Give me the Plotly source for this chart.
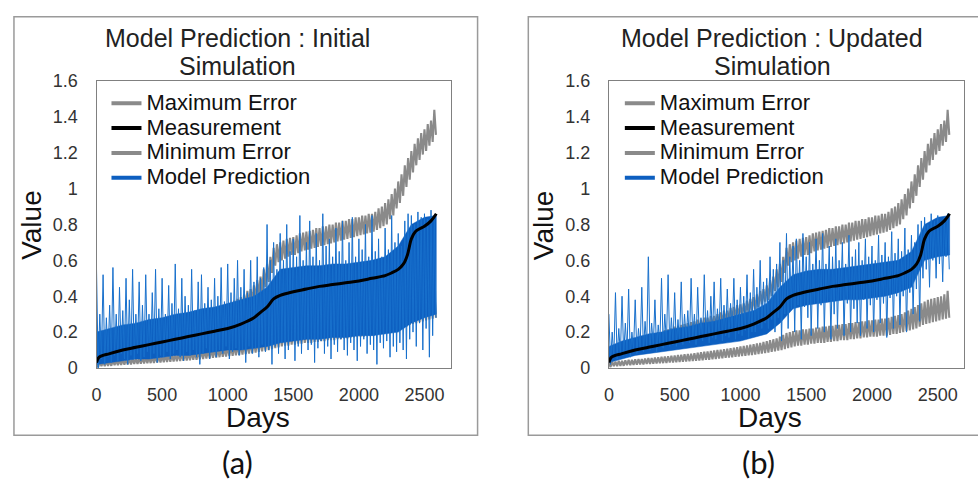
import plotly.graph_objects as go

# ---------------- data ----------------
# sampling grid of the noisy series (every 25 days); each reading gives a high and a low value
days = list(range(0, 2600, 25))

# measurement (smooth black line), same in both panels
meas_days = [0, 20, 100, 200, 300, 400, 500, 600, 700, 800, 900, 1000, 1100, 1200, 1250,
             1300, 1350, 1400, 1500, 1600, 1700, 1800, 1900, 2000, 2100, 2200, 2250, 2300,
             2340, 2370, 2400, 2430, 2460, 2500, 2550, 2590]
meas_vals = [0.03, 0.06, 0.08, 0.10, 0.115, 0.13, 0.145, 0.16, 0.175, 0.19, 0.205, 0.22, 0.245,
             0.28, 0.31, 0.34, 0.385, 0.405, 0.425, 0.44, 0.455, 0.465, 0.475, 0.485, 0.50,
             0.515, 0.53, 0.55, 0.58, 0.63, 0.72, 0.76, 0.775, 0.79, 0.82, 0.86]

# maximum error band (gray, upper)
max_err_hi = [0.08, 0.10, 0.11, 0.12, 0.13, 0.145, 0.15, 0.16, 0.165, 0.16, 0.175, 0.175,
              0.18, 0.19, 0.19, 0.20, 0.20, 0.21, 0.215, 0.22, 0.23, 0.23, 0.24, 0.245,
              0.25, 0.255, 0.26, 0.27, 0.27, 0.28, 0.28, 0.29, 0.29, 0.30, 0.31, 0.32,
              0.32, 0.335, 0.34, 0.35, 0.355, 0.36, 0.375, 0.385, 0.395, 0.41, 0.43, 0.44,
              0.46, 0.49, 0.51, 0.55, 0.58, 0.62, 0.67, 0.69, 0.70, 0.71, 0.72, 0.725,
              0.73, 0.74, 0.75, 0.755, 0.76, 0.765, 0.77, 0.78, 0.78, 0.79, 0.79, 0.80,
              0.80, 0.81, 0.81, 0.82, 0.82, 0.83, 0.83, 0.84, 0.84, 0.85, 0.85, 0.86,
              0.86, 0.87, 0.89, 0.90, 0.92, 0.94, 0.97, 1.00, 1.04, 1.08, 1.13, 1.17,
              1.21, 1.25, 1.28, 1.31, 1.33, 1.36, 1.38, 1.44]
max_err_lo = [0.04, 0.06, 0.07, 0.08, 0.09, 0.10, 0.11, 0.115, 0.12, 0.125, 0.13, 0.135,
              0.14, 0.145, 0.15, 0.155, 0.16, 0.16, 0.17, 0.17, 0.17, 0.18, 0.18, 0.19,
              0.19, 0.195, 0.20, 0.205, 0.21, 0.215, 0.22, 0.225, 0.23, 0.24, 0.25, 0.255,
              0.26, 0.27, 0.28, 0.285, 0.29, 0.30, 0.305, 0.32, 0.33, 0.34, 0.355, 0.37,
              0.38, 0.40, 0.43, 0.45, 0.48, 0.53, 0.57, 0.59, 0.60, 0.61, 0.62, 0.63,
              0.63, 0.64, 0.65, 0.655, 0.66, 0.665, 0.67, 0.675, 0.68, 0.685, 0.69, 0.695,
              0.70, 0.705, 0.71, 0.715, 0.72, 0.725, 0.73, 0.735, 0.74, 0.745, 0.75, 0.755,
              0.76, 0.77, 0.78, 0.79, 0.80, 0.83, 0.85, 0.89, 0.92, 0.96, 1.01, 1.05,
              1.09, 1.13, 1.16, 1.19, 1.21, 1.24, 1.26, 1.30]

# minimum error band (gray, lower)
min_err_hi = [0.03, 0.035, 0.035, 0.04, 0.04, 0.042, 0.045, 0.045, 0.048, 0.05, 0.05, 0.052,
              0.055, 0.056, 0.058, 0.06, 0.062, 0.064, 0.065, 0.068, 0.07, 0.072, 0.074, 0.076,
              0.078, 0.08, 0.082, 0.085, 0.088, 0.09, 0.092, 0.095, 0.098, 0.10, 0.102, 0.105,
              0.108, 0.11, 0.113, 0.116, 0.12, 0.123, 0.126, 0.13, 0.133, 0.137, 0.14, 0.145,
              0.15, 0.155, 0.16, 0.165, 0.175, 0.185, 0.195, 0.20, 0.205, 0.21, 0.21, 0.215,
              0.215, 0.22, 0.22, 0.225, 0.225, 0.23, 0.23, 0.235, 0.235, 0.24, 0.24, 0.245,
              0.245, 0.25, 0.25, 0.255, 0.255, 0.26, 0.26, 0.265, 0.265, 0.27, 0.27, 0.275,
              0.275, 0.28, 0.285, 0.29, 0.295, 0.30, 0.31, 0.32, 0.33, 0.34, 0.35, 0.36,
              0.37, 0.38, 0.385, 0.39, 0.395, 0.40, 0.41, 0.43]
min_err_lo = [0.005, 0.01, 0.01, 0.012, 0.012, 0.015, 0.015, 0.017, 0.018, 0.02, 0.02, 0.022,
              0.022, 0.024, 0.025, 0.026, 0.027, 0.028, 0.03, 0.03, 0.032, 0.033, 0.035, 0.036,
              0.037, 0.038, 0.04, 0.042, 0.043, 0.045, 0.046, 0.048, 0.05, 0.052, 0.054, 0.056,
              0.058, 0.06, 0.062, 0.064, 0.066, 0.068, 0.07, 0.072, 0.075, 0.077, 0.08, 0.083,
              0.086, 0.09, 0.093, 0.097, 0.10, 0.105, 0.11, 0.115, 0.12, 0.125, 0.125, 0.13,
              0.13, 0.135, 0.135, 0.14, 0.14, 0.14, 0.145, 0.145, 0.15, 0.15, 0.155, 0.155,
              0.155, 0.16, 0.16, 0.165, 0.165, 0.17, 0.17, 0.175, 0.175, 0.175, 0.18, 0.18,
              0.18, 0.185, 0.19, 0.19, 0.195, 0.20, 0.205, 0.21, 0.215, 0.22, 0.23, 0.24,
              0.245, 0.25, 0.255, 0.26, 0.265, 0.27, 0.275, 0.28]

# model prediction: dense body of the blue series (every 100 days, last reading at 2590)
body_days = [0, 100, 200, 300, 400, 500, 600, 700, 800, 900, 1000, 1100, 1200, 1300,
             1400, 1500, 1600, 1700, 1800, 1900, 2000, 2100, 2200, 2300, 2400, 2500, 2590]
body_a_hi = [0.20, 0.22, 0.24, 0.25, 0.27, 0.28, 0.30, 0.31, 0.33, 0.34, 0.36, 0.38, 0.40,
             0.45, 0.55, 0.56, 0.57, 0.57, 0.58, 0.58, 0.59, 0.60, 0.62, 0.68, 0.80, 0.84, 0.85]
body_a_lo = [0.02, 0.03, 0.04, 0.05, 0.05, 0.06, 0.07, 0.07, 0.08, 0.09, 0.10, 0.10, 0.11,
             0.12, 0.14, 0.15, 0.16, 0.16, 0.17, 0.17, 0.18, 0.18, 0.19, 0.20, 0.25, 0.28, 0.30]
body_b_hi = [0.12, 0.15, 0.17, 0.19, 0.20, 0.22, 0.23, 0.25, 0.26, 0.28, 0.30, 0.32, 0.36,
             0.45, 0.52, 0.54, 0.55, 0.55, 0.56, 0.57, 0.58, 0.59, 0.60, 0.65, 0.80, 0.84, 0.85]
body_b_lo = [0.03, 0.05, 0.07, 0.08, 0.09, 0.10, 0.11, 0.12, 0.13, 0.14, 0.15, 0.17, 0.19,
             0.25, 0.33, 0.35, 0.36, 0.37, 0.38, 0.38, 0.39, 0.40, 0.42, 0.45, 0.60, 0.62, 0.63]

# model prediction spikes, panel (a) initial simulation
pred_a_hi = [0.55, 0.30, 0.52, 0.28, 0.35, 0.56, 0.30, 0.45, 0.32, 0.50, 0.38, 0.55,
             0.30, 0.48, 0.35, 0.52, 0.30, 0.42, 0.55, 0.33, 0.50, 0.30, 0.46, 0.36,
             0.58, 0.33, 0.50, 0.40, 0.35, 0.55, 0.32, 0.48, 0.52, 0.36, 0.45, 0.38,
             0.50, 0.40, 0.56, 0.37, 0.58, 0.42, 0.50, 0.60, 0.45, 0.55, 0.42, 0.60,
             0.48, 0.62, 0.50, 0.56, 0.80, 0.60, 0.70, 0.55, 0.75, 0.60, 0.80, 0.65,
             0.72, 0.62, 0.85, 0.60, 0.70, 0.82, 0.62, 0.75, 0.60, 0.86, 0.68, 0.72,
             0.62, 0.78, 0.65, 0.82, 0.60, 0.70, 0.84, 0.62, 0.72, 0.66, 0.80, 0.62,
             0.85, 0.65, 0.72, 0.62, 0.78, 0.66, 0.85, 0.70, 0.75, 0.68, 0.82, 0.86,
             0.85, 0.80, 0.87, 0.84, 0.86, 0.83, 0.88, 0.85]
pred_a_lo = [0.00, 0.05, 0.02, 0.06, 0.03, 0.07, 0.04, 0.08, 0.05, 0.02, 0.07, 0.05,
             0.08, 0.04, 0.06, 0.09, 0.05, 0.08, 0.03, 0.07, 0.06, 0.09, 0.05, 0.08,
             0.10, 0.06, 0.04, 0.09, 0.07, 0.10, 0.06, 0.02, 0.08, 0.11, 0.05, 0.09,
             0.06, 0.10, 0.08, 0.12, 0.05, 0.09, 0.11, 0.07, 0.10, 0.03, 0.12, 0.08,
             0.11, 0.06, 0.13, 0.09, 0.10, 0.02, 0.12, 0.08, 0.14, 0.05, 0.10, 0.15,
             0.04, 0.12, 0.08, 0.16, 0.10, 0.13, 0.03, 0.11, 0.15, 0.08, 0.12, 0.05,
             0.13, 0.09, 0.16, 0.10, 0.07, 0.14, 0.10, 0.04, 0.12, 0.16, 0.08, 0.13,
             0.10, 0.02, 0.14, 0.11, 0.15, 0.06, 0.12, 0.09, 0.14, 0.10, 0.05, 0.16,
             0.20, 0.12, 0.25, 0.10, 0.22, 0.06, 0.18, 0.28]

# model prediction spikes, panel (b) updated simulation
pred_b_hi = [0.30, 0.20, 0.42, 0.22, 0.40, 0.25, 0.44, 0.20, 0.38, 0.22, 0.45, 0.26,
             0.62, 0.25, 0.38, 0.24, 0.50, 0.30, 0.52, 0.28, 0.42, 0.27, 0.48, 0.30,
             0.32, 0.50, 0.30, 0.45, 0.28, 0.52, 0.32, 0.40, 0.48, 0.33, 0.50, 0.35,
             0.44, 0.36, 0.50, 0.38, 0.45, 0.40, 0.52, 0.42, 0.55, 0.45, 0.60, 0.48,
             0.50, 0.62, 0.55, 0.58, 0.70, 0.60, 0.75, 0.62, 0.68, 0.72, 0.60, 0.75,
             0.62, 0.70, 0.58, 0.72, 0.60, 0.75, 0.58, 0.68, 0.62, 0.72, 0.60, 0.70,
             0.58, 0.74, 0.62, 0.66, 0.70, 0.60, 0.72, 0.62, 0.68, 0.60, 0.74, 0.63,
             0.70, 0.62, 0.76, 0.64, 0.72, 0.65, 0.78, 0.66, 0.74, 0.70, 0.80, 0.82,
             0.84, 0.80, 0.86, 0.82, 0.85, 0.80, 0.84, 0.86]
pred_b_lo = [0.02, 0.06, 0.05, 0.08, 0.07, 0.09, 0.06, 0.10, 0.08, 0.11, 0.09, 0.12,
             0.10, 0.12, 0.09, 0.13, 0.11, 0.14, 0.12, 0.13, 0.12, 0.15, 0.13, 0.16,
             0.14, 0.16, 0.13, 0.17, 0.15, 0.18, 0.14, 0.17, 0.16, 0.19, 0.15, 0.18,
             0.17, 0.20, 0.16, 0.19, 0.18, 0.21, 0.17, 0.20, 0.20, 0.24, 0.22, 0.25,
             0.22, 0.27, 0.20, 0.28, 0.15, 0.30, 0.22, 0.33, 0.20, 0.35, 0.16, 0.34,
             0.28, 0.18, 0.36, 0.22, 0.35, 0.20, 0.37, 0.16, 0.30, 0.22, 0.38, 0.18,
             0.36, 0.20, 0.33, 0.25, 0.18, 0.38, 0.22, 0.35, 0.20, 0.38, 0.25, 0.36,
             0.17, 0.39, 0.22, 0.40, 0.24, 0.40, 0.20, 0.42, 0.30, 0.44, 0.26, 0.50,
             0.55, 0.45, 0.60, 0.50, 0.58, 0.48, 0.62, 0.55]

x_ticks = [0, 500, 1000, 1500, 2000, 2500]
panel_titles = [("Model Prediction : Initial", "Simulation"),
                ("Model Prediction : Updated", "Simulation")]
panel_labels = ["(a)", "(b)"]
legend_names = ["Maximum Error", "Measurement", "Minimum Error", "Model Prediction"]

# ---------------- styling ----------------
W, H = 978, 496
GRAY = "#8a8a8a"
BLUE = "#1870cc"
BLUE_DARK = "#0d5fc0"
BLACK = "#000000"
FONT = "Liberation Sans, Arial, sans-serif"


def zig(xs, hi, lo, half_step=12.5):
    """Interleave the high/low readings so the noisy series is drawn as one line."""
    zx, zy = [], []
    for d, h, l in zip(xs, hi, lo):
        zx += [d, d + half_step]
        zy += [h, l]
    return zx, zy


def px_x(p):
    return p / W


def px_y(p):
    return 1 - p / H


fig = go.Figure()

panels = [
    dict(xa="x", ya="y", leg="legend", pred_hi=pred_a_hi, pred_lo=pred_a_lo,
         body_hi=body_a_hi, body_lo=body_a_lo),
    dict(xa="x2", ya="y2", leg="legend2", pred_hi=pred_b_hi, pred_lo=pred_b_lo,
         body_hi=body_b_hi, body_lo=body_b_lo),
]

for p in panels:
    mx, my = zig(days, max_err_hi, max_err_lo)
    nx, ny = zig(days, min_err_hi, min_err_lo)
    bx, by = zig(days, p["pred_hi"], p["pred_lo"])
    common = dict(xaxis=p["xa"], yaxis=p["ya"], showlegend=False, hoverinfo="skip")
    fig.add_trace(go.Scatter(x=mx, y=my, mode="lines",
                             line=dict(color=GRAY, width=2.1, simplify=False), **common))
    fig.add_trace(go.Scatter(x=nx, y=ny, mode="lines",
                             line=dict(color=GRAY, width=2.1, simplify=False), **common))
    # dense body of the prediction
    fig.add_trace(go.Scatter(x=body_days + body_days[::-1],
                             y=p["body_hi"] + p["body_lo"][::-1],
                             mode="lines", fill="toself", fillcolor=BLUE_DARK,
                             line=dict(color=BLUE_DARK, width=0.5), **common))
    # spikes of the prediction
    fig.add_trace(go.Scatter(x=bx, y=by, mode="lines",
                             line=dict(color=BLUE, width=1, simplify=False), **common))
    fig.add_trace(go.Scatter(x=meas_days, y=meas_vals, mode="lines",
                             line=dict(color=BLACK, width=3, shape="spline"), **common))
    # legend entries (thick line samples as in the reference)
    for name, col in zip(legend_names, [GRAY, BLACK, GRAY, BLUE_DARK]):
        fig.add_trace(go.Scatter(x=[None], y=[None], mode="lines",
                                 line=dict(color=col, width=4),
                                 name='<span style="font-size:22px">' + name + "</span>",
                                 xaxis=p["xa"], yaxis=p["ya"], legend=p["leg"]))

axis_common = dict(showline=True, mirror=True, linecolor="#808080", linewidth=1.2,
                   showgrid=False, zeroline=False, ticks="",
                   tickfont=dict(family=FONT, size=18, color="#333333"))

ydom = [px_y(373), px_y(74)]
fig.update_layout(
    width=W, height=H, autosize=False,
    margin=dict(l=0, r=0, t=0, b=0),
    paper_bgcolor="white", plot_bgcolor="white",
    xaxis=dict(domain=[px_x(92), px_x(448)], range=[0, 2700], tickvals=x_ticks,
               anchor="y", ticklabelstandoff=10, **axis_common),
    yaxis=dict(domain=ydom, range=[0, 1.6], tick0=0, dtick=0.2, anchor="x",
               ticklabelstandoff=14, **axis_common),
    xaxis2=dict(domain=[px_x(607), px_x(964)], range=[0, 2700], tickvals=x_ticks,
                anchor="y2", ticklabelstandoff=10, **axis_common),
    yaxis2=dict(domain=ydom, range=[0, 1.6], tick0=0, dtick=0.2, anchor="x2",
                ticklabelstandoff=14, **axis_common),
    legend=dict(x=px_x(102), y=px_y(79), xanchor="left", yanchor="top",
                bgcolor="rgba(0,0,0,0)", tracegroupgap=0,
                font=dict(family=FONT, size=16.8, color="#111111")),
    legend2=dict(x=px_x(618), y=px_y(79), xanchor="left", yanchor="top",
                 bgcolor="rgba(0,0,0,0)", tracegroupgap=0,
                 font=dict(family=FONT, size=16.8, color="#111111")),
    showlegend=True,
)

# outer frames of the two panels
fig.add_shape(type="rect", xref="paper", yref="paper",
              x0=px_x(9), x1=px_x(475), y0=px_y(443), y1=px_y(7),
              line=dict(color="#9a9a9a", width=1.5))
fig.add_shape(type="rect", xref="paper", yref="paper",
              x0=px_x(526), x1=px_x(995), y0=px_y(443), y1=px_y(7),
              line=dict(color="#9a9a9a", width=1.5))

ann = []
title_cx = [234, 771]
value_cx = [27, 542]
days_cx = [254, 769]
label_cx = [234, 757]
for i in range(2):
    ann.append(dict(text=panel_titles[i][0], x=px_x(title_cx[i]), y=px_y(29),
                    font=dict(family=FONT, size=25, color="#222222")))
    ann.append(dict(text=panel_titles[i][1], x=px_x(title_cx[i]), y=px_y(58),
                    font=dict(family=FONT, size=25, color="#222222")))
    ann.append(dict(text="Value", x=px_x(value_cx[i]), y=px_y(224), textangle=-90,
                    font=dict(family=FONT, size=28, color="#111111")))
    ann.append(dict(text="Days", x=px_x(days_cx[i]), y=px_y(425),
                    font=dict(family=FONT, size=28, color="#111111")))
    ann.append(dict(text=panel_labels[i], x=px_x(label_cx[i]), y=px_y(471),
                    font=dict(family="Lato, Open Sans, sans-serif", size=31, color="#111111")))
for a in ann:
    a.update(xref="paper", yref="paper", xanchor="center", yanchor="middle",
             showarrow=False)
fig.update_layout(annotations=ann)

fig.write_html("out.html")
